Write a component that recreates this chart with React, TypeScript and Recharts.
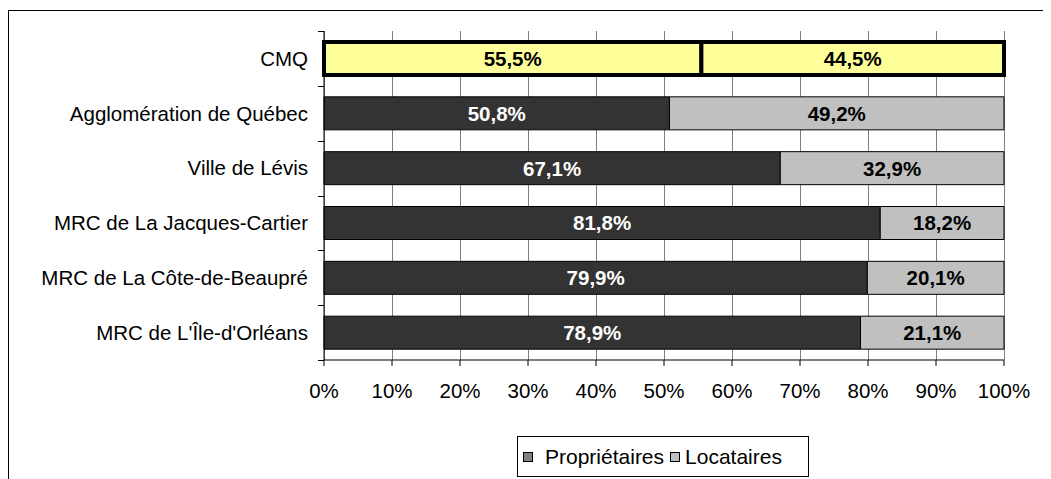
// Tenure split (owners vs renters) by territory of the CMQ — horizontal 100% stacked bars,
// drawn in the old Excel look: grey frame, black axes, bold labels inside the segments.

import { Bar, BarChart, CartesianGrid, Cell, LabelList, Legend, XAxis, YAxis } from "recharts";

const categories = [
  "CMQ",
  "Agglomération de Québec",
  "Ville de Lévis",
  "MRC de La Jacques-Cartier",
  "MRC de La Côte-de-Beaupré",
  "MRC de L'Île-d'Orléans",
];
const proprietaires = [55.5, 50.8, 67.1, 81.8, 79.9, 78.9];
const locataires = [44.5, 49.2, 32.9, 18.2, 20.1, 21.1];
const xTicks = [0, 10, 20, 30, 40, 50, 60, 70, 80, 90, 100];

const DARK = "#333333";
const LIGHT = "#c0c0c0";
const HILITE = "#ffff99";
const GRID = "#808080";
const FONT = '"Liberation Sans", Arial, sans-serif';
const FS = 20.5;

const W = 1042;
const H = 468;
const MARGIN = { top: 20, right: 47, bottom: 2, left: 0 };
const PLOT_H = 329;

const data = categories.map((name, i) => ({
  name,
  prop: proprietaires[i],
  loc: locataires[i],
}));

const pct = (v: number) => `${v.toFixed(1).replace(".", ",")}%`;

// category label + Excel-style tick marks on the band boundaries
function CatTick(props: any) {
  const { x, y, payload, index } = props;
  const axisX = Math.round(x + 16);
  const half = PLOT_H / categories.length / 2;
  const top = Math.round(y - half) + 0.5;
  const bot = Math.round(y + half) + 0.5;
  return (
    <g>
      <text x={x} y={y} dy="0.355em" textAnchor="end" fontSize={FS} fontFamily={FONT} fill="#000">
        {payload.value}
      </text>
      <line x1={axisX - 6} x2={axisX} y1={top} y2={top} stroke="#000" strokeWidth={1} />
      {index === categories.length - 1 && (
        <line x1={axisX - 6} x2={axisX} y1={bot} y2={bot} stroke="#000" strokeWidth={1} />
      )}
    </g>
  );
}

function segLabel(light: boolean) {
  return (p: any) => {
    const { x, y, width, height, value, index } = p;
    const fill = light || index === 0 ? "#000" : "#fff";
    return (
      <text
        x={x + width / 2}
        y={y + height / 2}
        dy="0.36em"
        textAnchor="middle"
        fontSize={FS}
        fontWeight="bold"
        fontFamily={FONT}
        fill={fill}
      >
        {pct(value)}
      </text>
    );
  };
}

function LegendBox() {
  const item = (color: string, label: string, gap: number) => (
    <span style={{ display: "flex", alignItems: "center", marginRight: 6 }}>
      <span
        style={{
          display: "inline-block",
          width: 8,
          height: 8,
          border: "1px solid #000",
          background: color,
          marginRight: gap,
        }}
      />
      {label}
    </span>
  );
  return (
    <div
      style={{
        boxSizing: "border-box",
        width: 292,
        height: 41,
        border: "1px solid #000",
        display: "flex",
        alignItems: "center",
        paddingLeft: 5,
        fontFamily: FONT,
        fontSize: 21,
        color: "#000",
        background: "#fff",
      }}
    >
      {item("#808080", "Propriétaires", 12)}
      {item(LIGHT, "Locataires", 5)}
    </div>
  );
}

export default function App() {
  return (
    <div
      style={{
        position: "relative",
        marginTop: 2,
        width: W,
        height: H,
        borderTop: "1px solid #000",
        borderLeft: "1px solid #000",
        background: "#fff",
      }}
    >
      <style>{"body{overflow:hidden}"}</style>
      <BarChart width={W} height={H} data={data} layout="vertical" margin={MARGIN} barSize={33}>
        <CartesianGrid
          vertical={true}
          horizontal={false}
          stroke={GRID}
          strokeOpacity={1}
          shapeRendering="crispEdges"
        />
        <XAxis
          type="number"
          domain={[0, 100]}
          ticks={xTicks}
          tickFormatter={(v: number) => `${v}%`}
          axisLine={{ stroke: "#000" }}
          tickLine={{ stroke: "#000" }}
          tickSize={6}
          tickMargin={17}
          height={76}
          tick={{ fontSize: FS, fontFamily: FONT, fill: "#000" }}
          interval={0}
        />
        <XAxis
          xAxisId="top"
          orientation="top"
          type="number"
          domain={[0, 100]}
          height={0}
          tick={false}
          tickLine={false}
          axisLine={{ stroke: GRID }}
        />
        <YAxis
          type="category"
          dataKey="name"
          width={315}
          axisLine={{ stroke: "#000" }}
          tickLine={false}
          tickSize={6}
          tickMargin={10}
          tick={<CatTick />}
          interval={0}
        />
        <Legend
          verticalAlign="bottom"
          wrapperStyle={{ left: 508, width: 292 }}
          content={() => <LegendBox />}
        />
        <Bar dataKey="prop" name="Propriétaires" stackId="a" fill={DARK} stroke="#000" strokeWidth={1} isAnimationActive={false}>
          {data.map((d, i) => (
            <Cell key={d.name} fill={i === 0 ? HILITE : DARK} stroke="#000" strokeWidth={i === 0 ? 4 : 1} />
          ))}
          <LabelList dataKey="prop" content={segLabel(false)} />
        </Bar>
        <Bar dataKey="loc" name="Locataires" stackId="a" fill={LIGHT} stroke="#000" strokeWidth={1} isAnimationActive={false}>
          {data.map((d, i) => (
            <Cell key={d.name} fill={i === 0 ? HILITE : LIGHT} stroke="#000" strokeWidth={i === 0 ? 4 : 1} />
          ))}
          <LabelList dataKey="loc" content={segLabel(true)} />
        </Bar>
      </BarChart>
    </div>
  );
}
